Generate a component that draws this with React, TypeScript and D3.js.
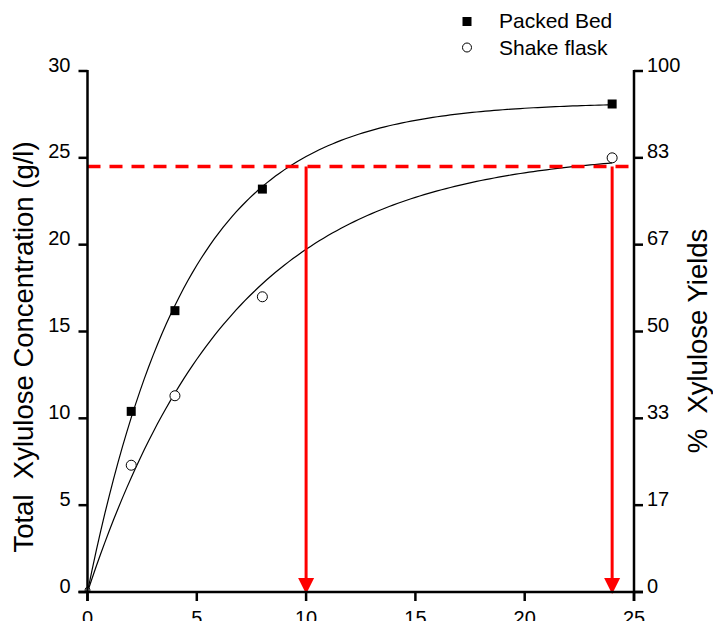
import React from "react";
import * as d3 from "d3";

const WIDTH = 713;
const HEIGHT = 621;

// Observed data (time in h, xylulose g/l)
const times = [0, 2, 4, 8, 24];
const packedBed = [0, 10.4, 16.2, 23.2, 28.1];
const shakeFlask = [0, 7.3, 11.3, 17.0, 25.0];

// Fitted saturation curves y = a (1 - exp(-k t))
const packedFit = { a: 28.2, k: 0.22 };
const shakeFit = { a: 25.4, k: 0.15 };

// Axis ticks
const xTicks = [0, 5, 10, 15, 20, 25];
const yTicks = [0, 5, 10, 15, 20, 25, 30];
const yieldTicks = [0, 16.667, 33.333, 50, 66.667, 83.333, 100];
const yieldLabels = ["0", "17", "33", "50", "67", "83", "100"];

// Reference marks
const refLevel = 24.5;
const refTimes = [10, 24];

const FONT = "'Liberation Sans', Arial, Helvetica, sans-serif";

export default function App() {
  const x = d3.scaleLinear().domain([0, 25]).range([87.5, 634]);
  const y = d3.scaleLinear().domain([0, 30]).range([592, 71]);
  const yRight = d3.scaleLinear().domain([0, 100]).range([592, 71]);

  const samples = d3.range(0, 24.001, 0.2);
  const line = d3
    .line<number>()
    .x((t) => x(t))
    .curve(d3.curveLinear);
  const fitPath = (p: { a: number; k: number }) =>
    line.y((t) => y(p.a * (1 - Math.exp(-p.k * t))))(samples) as string;

  const x0 = x(0);
  const x1 = x(25);
  const yTop = y(30);
  const yBot = y(0);
  const tick = 9;

  return (
    <svg
      width={WIDTH}
      height={HEIGHT}
      style={{ position: "absolute", left: 0, top: 0, background: "#fff" }}
      fontFamily={FONT}
    >
      <rect x={0} y={0} width={WIDTH} height={HEIGHT} fill="#fff" />

      {/* fit curves */}
      <path d={fitPath(packedFit)} fill="none" stroke="#000" strokeWidth={1.2} />
      <path d={fitPath(shakeFit)} fill="none" stroke="#000" strokeWidth={1.2} />

      {/* red reference lines */}
      <line
        x1={x0}
        x2={x1}
        y1={y(refLevel)}
        y2={y(refLevel)}
        stroke="#ff0000"
        strokeWidth={3.5}
        strokeDasharray="13 9"
      />
      {refTimes.map((t) => {
        const cx = x(t);
        const tip = yBot + 2;
        return (
          <g key={t}>
            <line x1={cx} x2={cx} y1={y(refLevel)} y2={tip - 14} stroke="#ff0000" strokeWidth={3} />
            <path
              d={`M${cx - 8},${tip - 16} L${cx + 8},${tip - 16} L${cx},${tip} Z`}
              fill="#ff0000"
            />
          </g>
        );
      })}

      {/* data markers */}
      {times.map((t, i) =>
        t === 0 ? null : (
          <rect
            key={"p" + i}
            x={x(t) - 4.5}
            y={y(packedBed[i]) - 4.5}
            width={9}
            height={9}
            fill="#000"
          />
        )
      )}
      {times.map((t, i) => (
        <circle
          key={"s" + i}
          cx={x(t)}
          cy={y(shakeFlask[i]) - (t === 0 ? 2 : 0)}
          r={t === 0 ? 2.5 : 5}
          fill="#fff"
          stroke="#000"
          strokeWidth={1}
        />
      ))}

      {/* axes */}
      <g stroke="#000" strokeWidth={2.5} fill="none">
        <line x1={x0} x2={x0} y1={yTop - 1} y2={yBot + tick} />
        <line x1={x1} x2={x1} y1={yTop - 1} y2={yBot + tick} />
        <line x1={x0 - tick} x2={x1 + tick} y1={yBot} y2={yBot} />
        {yTicks.map((v) => (
          <line key={"yl" + v} x1={x0 - tick} x2={x0} y1={y(v)} y2={y(v)} />
        ))}
        {yieldTicks.map((v) => (
          <line key={"yr" + v} x1={x1} x2={x1 + tick} y1={yRight(v)} y2={yRight(v)} />
        ))}
        {xTicks.map((v) => (
          <line key={"xt" + v} x1={x(v)} x2={x(v)} y1={yBot} y2={yBot + tick} />
        ))}
      </g>

      {/* tick labels */}
      <g fontSize={20} fill="#000">
        {yTicks.map((v) => (
          <text key={"ylt" + v} x={x0 - 17} y={y(v) + 0.5} textAnchor="end">
            {v}
          </text>
        ))}
        {yieldTicks.map((v, i) => (
          <text key={"yrt" + v} x={x1 + 13} y={yRight(v) + 0.5} textAnchor="start">
            {yieldLabels[i]}
          </text>
        ))}
        {xTicks.map((v) => (
          <text key={"xtt" + v} x={x(v)} y={625} textAnchor="middle">
            {v}
          </text>
        ))}
      </g>

      {/* axis titles */}
      <text
        transform={`translate(33,347) rotate(-90)`}
        textAnchor="middle"
        fontSize={27.5}
        fill="#000"
        style={{ whiteSpace: "pre" }}
      >
        {"Total  Xylulose Concentration (g/l)"}
      </text>
      <text
        transform={`translate(707,341) rotate(-90)`}
        textAnchor="middle"
        fontSize={27.5}
        fill="#000"
        style={{ whiteSpace: "pre" }}
      >
        {"%  Xylulose Yields"}
      </text>

      {/* legend */}
      <rect x={462.5} y={17} width={9} height={9} fill="#000" />
      <text x={499} y={28} fontSize={21} fill="#000">
        Packed Bed
      </text>
      <circle cx={467} cy={47.5} r={4.5} fill="#fff" stroke="#000" strokeWidth={1} />
      <text x={499} y={55} fontSize={21} fill="#000">
        Shake flask
      </text>
    </svg>
  );
}
